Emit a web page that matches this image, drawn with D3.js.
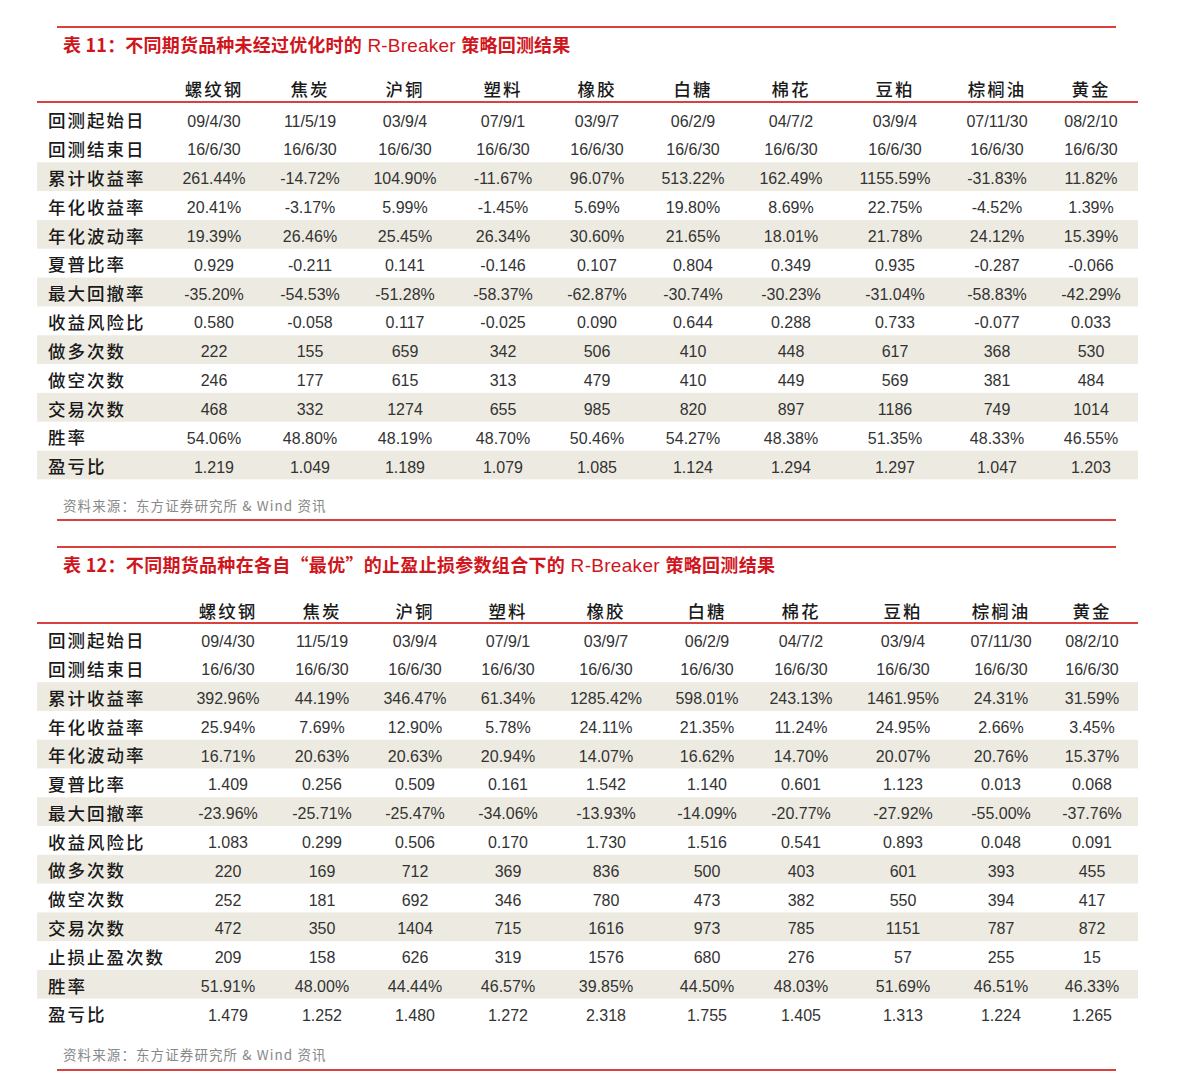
<!DOCTYPE html>
<html>
<head>
<meta charset="utf-8">
<script src="https://cdn.jsdelivr.net/npm/d3@7"></script>
<style>
  body { margin: 0; background: #fff; }
  svg { display: block; }
  .cjk { font-family: "Noto Sans CJK SC", "Noto Sans", sans-serif; }
  .num { font-family: "Liberation Sans", Arial, sans-serif; }
</style>
</head>
<body>
<div id="graphic"></div>
<script>
var products = ['螺纹钢', '焦炭', '沪铜', '塑料', '橡胶', '白糖', '棉花', '豆粕', '棕榈油', '黄金']

var title1 = ['表 11：', '不同期货品种未经过优化时的', ' R-Breaker ', '策略回测结果']
var title2 = ['表 12：', '不同期货品种在各自“最优”的止盈止损参数组合下的', ' R-Breaker ', '策略回测结果']
var source = '资料来源：东方证券研究所 & Wind 资讯'

var rows1 = [
  ['回测起始日', ['09/4/30', '11/5/19', '03/9/4', '07/9/1', '03/9/7', '06/2/9', '04/7/2', '03/9/4', '07/11/30', '08/2/10']],
  ['回测结束日', ['16/6/30', '16/6/30', '16/6/30', '16/6/30', '16/6/30', '16/6/30', '16/6/30', '16/6/30', '16/6/30', '16/6/30']],
  ['累计收益率', ['261.44%', '-14.72%', '104.90%', '-11.67%', '96.07%', '513.22%', '162.49%', '1155.59%', '-31.83%', '11.82%']],
  ['年化收益率', ['20.41%', '-3.17%', '5.99%', '-1.45%', '5.69%', '19.80%', '8.69%', '22.75%', '-4.52%', '1.39%']],
  ['年化波动率', ['19.39%', '26.46%', '25.45%', '26.34%', '30.60%', '21.65%', '18.01%', '21.78%', '24.12%', '15.39%']],
  ['夏普比率', ['0.929', '-0.211', '0.141', '-0.146', '0.107', '0.804', '0.349', '0.935', '-0.287', '-0.066']],
  ['最大回撤率', ['-35.20%', '-54.53%', '-51.28%', '-58.37%', '-62.87%', '-30.74%', '-30.23%', '-31.04%', '-58.83%', '-42.29%']],
  ['收益风险比', ['0.580', '-0.058', '0.117', '-0.025', '0.090', '0.644', '0.288', '0.733', '-0.077', '0.033']],
  ['做多次数', ['222', '155', '659', '342', '506', '410', '448', '617', '368', '530']],
  ['做空次数', ['246', '177', '615', '313', '479', '410', '449', '569', '381', '484']],
  ['交易次数', ['468', '332', '1274', '655', '985', '820', '897', '1186', '749', '1014']],
  ['胜率', ['54.06%', '48.80%', '48.19%', '48.70%', '50.46%', '54.27%', '48.38%', '51.35%', '48.33%', '46.55%']],
  ['盈亏比', ['1.219', '1.049', '1.189', '1.079', '1.085', '1.124', '1.294', '1.297', '1.047', '1.203']]
]

var rows2 = [
  ['回测起始日', ['09/4/30', '11/5/19', '03/9/4', '07/9/1', '03/9/7', '06/2/9', '04/7/2', '03/9/4', '07/11/30', '08/2/10']],
  ['回测结束日', ['16/6/30', '16/6/30', '16/6/30', '16/6/30', '16/6/30', '16/6/30', '16/6/30', '16/6/30', '16/6/30', '16/6/30']],
  ['累计收益率', ['392.96%', '44.19%', '346.47%', '61.34%', '1285.42%', '598.01%', '243.13%', '1461.95%', '24.31%', '31.59%']],
  ['年化收益率', ['25.94%', '7.69%', '12.90%', '5.78%', '24.11%', '21.35%', '11.24%', '24.95%', '2.66%', '3.45%']],
  ['年化波动率', ['16.71%', '20.63%', '20.63%', '20.94%', '14.07%', '16.62%', '14.70%', '20.07%', '20.76%', '15.37%']],
  ['夏普比率', ['1.409', '0.256', '0.509', '0.161', '1.542', '1.140', '0.601', '1.123', '0.013', '0.068']],
  ['最大回撤率', ['-23.96%', '-25.71%', '-25.47%', '-34.06%', '-13.93%', '-14.09%', '-20.77%', '-27.92%', '-55.00%', '-37.76%']],
  ['收益风险比', ['1.083', '0.299', '0.506', '0.170', '1.730', '1.516', '0.541', '0.893', '0.048', '0.091']],
  ['做多次数', ['220', '169', '712', '369', '836', '500', '403', '601', '393', '455']],
  ['做空次数', ['252', '181', '692', '346', '780', '473', '382', '550', '394', '417']],
  ['交易次数', ['472', '350', '1404', '715', '1616', '973', '785', '1151', '787', '872']],
  ['止损止盈次数', ['209', '158', '626', '319', '1576', '680', '276', '57', '255', '15']],
  ['胜率', ['51.91%', '48.00%', '44.44%', '46.57%', '39.85%', '44.50%', '48.03%', '51.69%', '46.51%', '46.33%']],
  ['盈亏比', ['1.479', '1.252', '1.480', '1.272', '2.318', '1.755', '1.405', '1.313', '1.224', '1.265']]
]

var width = 1187
var height = 1088
var red = '#d9413f'
var shade = '#edebe1'

var svg = d3.select('#graphic').append('svg')
  .attr('width', width).attr('height', height)

function drawTable(o) {
  var g = svg.append('g')

  // column centres are uneven in the original, so map them by hand
  var x = d3.scaleOrdinal().domain(products).range(o.colX)
  var y = d3.scaleBand()
    .domain(o.rows.map(d => d[0]))
    .range([o.bodyTop, o.bodyTop + o.rows.length * o.rowH])

  g.append('rect')
    .attr('x', 57).attr('y', o.top - 1).attr('width', 1059).attr('height', 2)
    .attr('fill', red)

  var t = g.append('text').attr('class', 'cjk')
    .attr('x', 63).attr('y', o.top + 25)
    .attr('fill', '#d0161d').style('font-size', '18px')
    .style('letter-spacing', o.titleSpacing)
  t.selectAll('tspan').data(o.title).join('tspan')
    .attr('font-weight', (d, i) => i == 2 ? 400 : 700)
    .attr('class', (d, i) => i == 2 ? 'num' : null)
    .style('font-size', (d, i) => i == 2 ? '19px' : null)
    .text(d => d)

  // shaded bands
  g.selectAll('rect.band').data(o.rows.filter((d, i) => i >= 2 && i % 2 == 0)).join('rect')
    .attr('class', 'band')
    .attr('x', 37).attr('width', 1101)
    .attr('y', d => y(d[0])).attr('height', y.bandwidth())
    .attr('fill', shade)

  // header
  g.selectAll('text.head').data(products).join('text')
    .attr('class', 'head cjk')
    .attr('x', d => x(d)).attr('y', o.headY)
    .attr('dy', '0.36em')
    .attr('text-anchor', 'middle')
    .attr('font-weight', 500)
    .style('font-size', '17.5px').style('letter-spacing', '2px')
    .attr('fill', '#1a1a1a')
    .text(d => d)

  g.append('rect')
    .attr('x', 37).attr('y', o.lineY - 1).attr('width', 1101).attr('height', 2)
    .attr('fill', red)

  var row = g.selectAll('g.row').data(o.rows).join('g')
    .attr('class', 'row')
    .attr('transform', d => `translate(0,${y(d[0]) + y.bandwidth() / 2 + 2})`)

  row.append('text')
    .attr('class', 'cjk')
    .attr('x', 48).attr('dy', '0.36em')
    .attr('font-weight', 500)
    .style('font-size', '17.5px').style('letter-spacing', '2px')
    .attr('fill', '#1a1a1a')
    .text(d => d[0])

  row.selectAll('text.v').data(d => d[1]).join('text')
    .attr('class', 'v num')
    .attr('x', (d, i) => x(products[i])).attr('dy', '0.35em')
    .attr('text-anchor', 'middle')
    .style('font-size', '16px')
    .attr('fill', '#333')
    .text(d => d)

  g.append('text')
    .attr('class', 'cjk')
    .attr('x', 63).attr('y', o.sourceY).attr('dy', '0.35em')
    .style('font-size', '13.5px').style('letter-spacing', '1.1px')
    .attr('fill', '#888')
    .text(source)

  g.append('rect')
    .attr('x', 57).attr('y', o.bottom - 1).attr('width', 1059).attr('height', 2)
    .attr('fill', red)
}

drawTable({
  title: title1, rows: rows1, titleSpacing: '0.2px',
  colX: [214, 310, 405, 503, 597, 693, 791, 895, 997, 1091],
  top: 27, headY: 90, lineY: 102, bodyTop: 104.6, rowH: 28.83,
  sourceY: 506, bottom: 520
})

drawTable({
  title: title2, rows: rows2, titleSpacing: '0.3px',
  colX: [228, 322, 415, 508, 606, 707, 801, 903, 1001, 1092],
  top: 547, headY: 612, lineY: 623, bodyTop: 624.6, rowH: 28.77,
  sourceY: 1055, bottom: 1070
})
</script>
</body>
</html>
